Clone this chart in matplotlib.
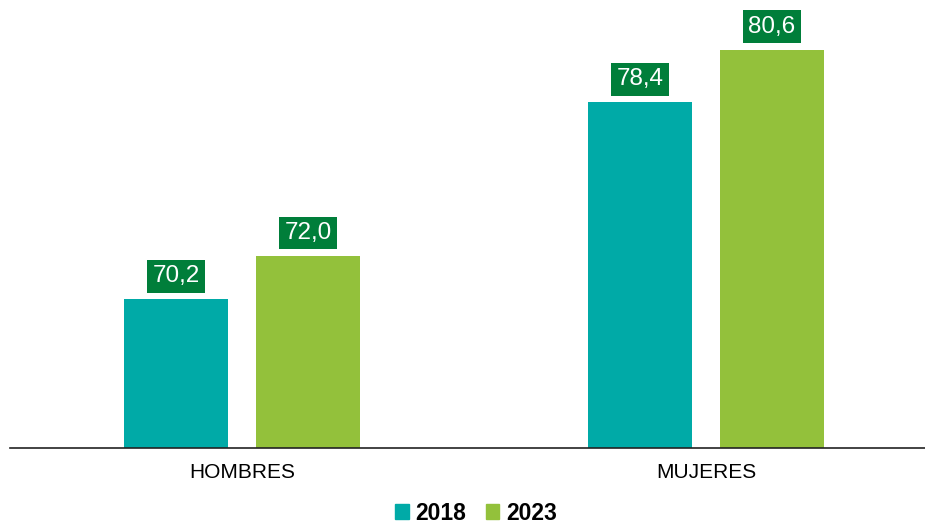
import matplotlib
matplotlib.use("Agg")
import matplotlib.pyplot as plt
from matplotlib.patches import Patch

plt.rcParams['font.family'] = ['Liberation Sans', 'DejaVu Sans']

categories = ["HOMBRES", "MUJERES"]
series_names = ["2018", "2023"]
values_2018 = [70.2, 78.4]
values_2023 = [72.0, 80.6]
colors = ["#00AAA7", "#93C13B"]
label_bg = "#007E3A"

W, H = 925, 525
fig = plt.figure(figsize=(W/100, H/100), dpi=100)
ax = fig.add_axes([10/W, 77/H, 1 - 10/W, 1 - 77/H])

width = 0.224
offset = 0.142
x = list(range(len(categories)))
for vals, off, col in [(values_2018, -offset, colors[0]), (values_2023, offset, colors[1])]:
    xs = [xi + off for xi in x]
    ax.bar(xs, vals, width=width, color=col, zorder=2)
    for xi, v in zip(xs, vals):
        ax.annotate(f"{v:.1f}".replace(".", ","), (xi, v), xytext=(0, 12), textcoords="offset pixels",
                    ha="center", va="bottom", fontsize=17.5, color="white",
                    bbox=dict(boxstyle="square,pad=0.22", fc=label_bg, ec="none"))

ax.set_xlim(-0.5, 1.472)
ax.set_ylim(64, 82.67)
for s in ["top", "right", "left"]:
    ax.spines[s].set_visible(False)
ax.spines["bottom"].set_color("#222222")
ax.spines["bottom"].set_linewidth(1.2)
ax.set_yticks([])
ax.set_xticks(x)
ax.set_xticklabels(categories, fontsize=15)
ax.tick_params(axis="x", length=0, pad=11)

handles = [Patch(color=c) for c in colors]
leg = fig.legend(handles, series_names, loc="center", bbox_to_anchor=(476/W, 1 - 513/H),
                 ncol=2, frameon=False, handlelength=0.58, handleheight=0.58,
                 handletextpad=0.3, columnspacing=0.85, borderpad=0.2,
                 prop={"weight": "bold", "size": 16.5})

fig.savefig("out.png", dpi=100)
